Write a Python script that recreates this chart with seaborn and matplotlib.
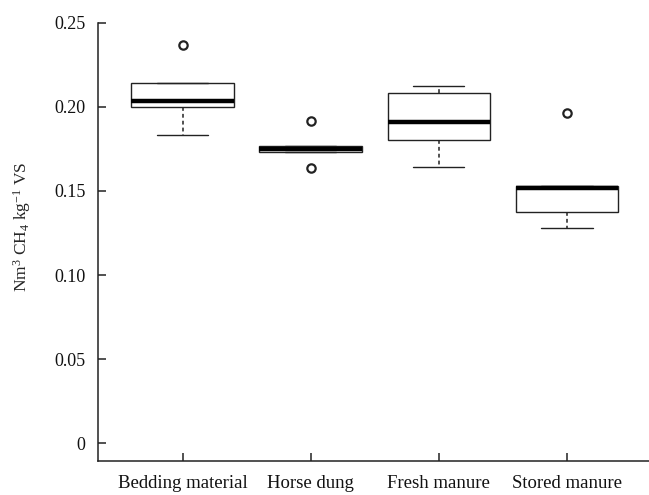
import pandas as pd
import matplotlib
matplotlib.use('Agg')
import matplotlib.pyplot as plt
import seaborn as sns

# --- data ---
categories = ['Bedding material', 'Horse dung', 'Fresh manure', 'Stored manure']

bedding = [0.1831, 0.1950, 0.1999, 0.2020, 0.2033, 0.2100, 0.2141, 0.2141, 0.2369]
horse_dung = [0.1633, 0.1730, 0.1730, 0.1738, 0.1747, 0.1755, 0.1765, 0.1765, 0.1914]
fresh = [0.1641, 0.1720, 0.1801, 0.1850, 0.1910, 0.2000, 0.2080, 0.2100, 0.2122]
stored = [0.1277, 0.1330, 0.1372, 0.1450, 0.1516, 0.1525, 0.1530, 0.1530, 0.1960]

ytick_values = [0, 0.05, 0.10, 0.15, 0.20, 0.25]
ytick_labels = ['0', '0.05', '0.10', '0.15', '0.20', '0.25']

df = pd.DataFrame({
    'group': [categories[0]] * len(bedding) + [categories[1]] * len(horse_dung)
             + [categories[2]] * len(fresh) + [categories[3]] * len(stored),
    'value': bedding + horse_dung + fresh + stored,
})

# --- style ---
sns.set_style('ticks')
plt.rcParams['font.family'] = ['Liberation Serif', 'DejaVu Serif']
plt.rcParams['mathtext.fontset'] = 'custom'
plt.rcParams['mathtext.rm'] = 'Liberation Serif'
plt.rcParams['mathtext.it'] = 'Liberation Serif:italic'

fig = plt.figure(figsize=(6.49, 4.95), dpi=100)
ax = fig.add_axes([0.151, 0.0693, 0.849, 0.8852])

sns.boxplot(
    data=df, x='group', y='value', order=categories, ax=ax,
    color='white', linecolor='#222222', linewidth=1.0, width=0.8, whis=1.5,
    medianprops=dict(color='black', linewidth=3.2),
    whiskerprops=dict(linestyle=(0, (2.5, 2)), color='#222222', linewidth=1.1),
    capprops=dict(color='#222222', linewidth=1.0),
    flierprops=dict(marker='o', markerfacecolor='none', markeredgecolor='#222222',
                    markersize=6, markeredgewidth=1.6),
)

ax.set_ylim(-0.0103, 0.25)
ax.set_xlim(-0.66, 3.64)
ax.set_yticks(ytick_values)
ax.set_yticklabels(ytick_labels)
ax.set_xlabel('')
ax.set_ylabel(r'Nm$^{\mathrm{3}}$ CH$_{\mathrm{4}}$ kg$^{\mathrm{-1}}$ VS', fontsize=12.5)
ax.yaxis.set_label_coords(-0.118, 0.533)

sns.despine(ax=ax, top=True, right=True)
for side in ['left', 'bottom']:
    ax.spines[side].set_linewidth(1.1)
    ax.spines[side].set_color('#222222')
ax.tick_params(axis='both', direction='in', length=6, width=1.1, color='#222222',
               labelsize=13, labelcolor='#111111')
ax.tick_params(axis='x', labelsize=13.5, pad=10)
ax.tick_params(axis='y', pad=9)

fig.savefig('out.png', dpi=100)
